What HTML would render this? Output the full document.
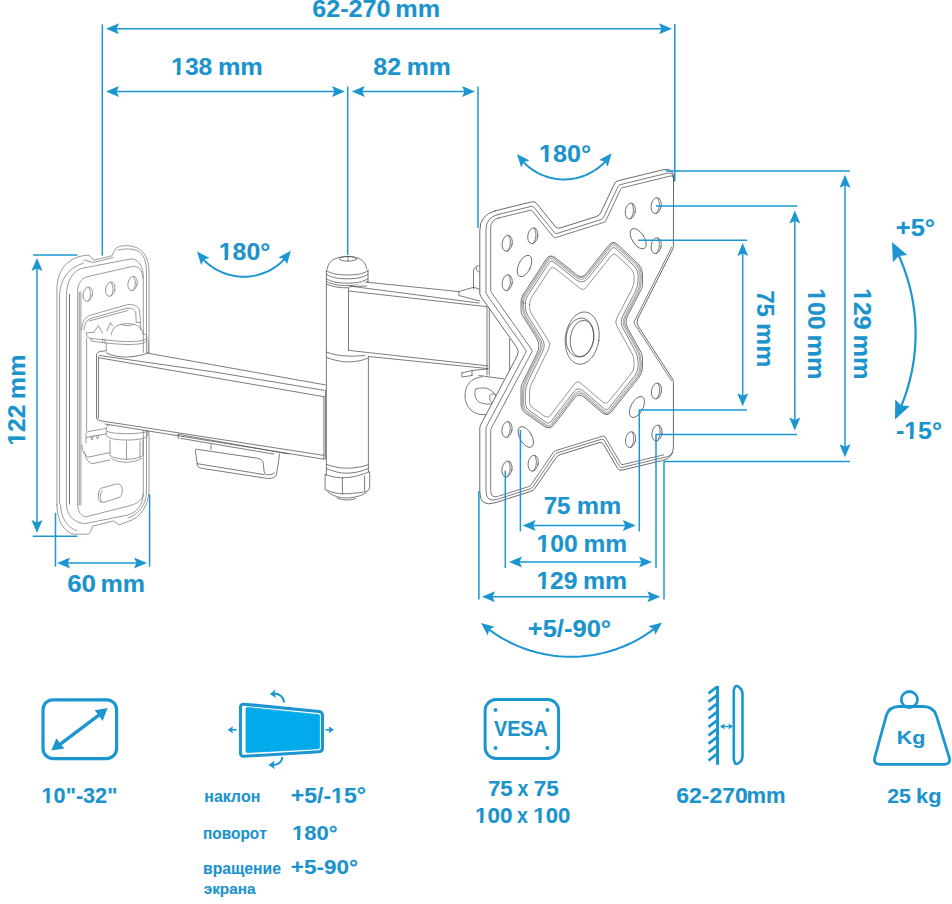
<!DOCTYPE html>
<html><head><meta charset="utf-8"><style>
html,body{margin:0;padding:0;background:#fff;width:952px;height:904px;overflow:hidden}
svg{display:block}
text{font-family:"Liberation Sans",sans-serif;font-weight:bold;font-kerning:none;stroke:#1b93cc;stroke-width:0.12;stroke-linejoin:round}
</style></head><body>
<svg width="952" height="904" viewBox="0 0 952 904">
<g fill="none" stroke="#505050" stroke-width="0.75" stroke-linejoin="round" stroke-linecap="round">
<g stroke="#7a7a7a">
<path d="M79.3,292 L79.3,505"/>
<path d="M86.6,338 L86.6,431"/>
<path d="M56.9,505 L56.9,289 C56.9,270 68,256.5 87.8,255.2 L90.5,256.3 L93.5,260.2 L111.8,255.8 L115.5,248.9 C117.5,246.5 120.5,245.8 125.6,245.7 C140,245.5 149,254 149,271.6 L149,491.7 C148.5,505 140,518 129.7,520.9 L119,524.9 L116.4,522.9 L113.7,520.9 L92.5,526.2 L91.2,530.8 L88.5,534.2 L73.9,534.2 C64,532 57,521 56.9,505 Z"/>
<path d="M59.5,504 L59.5,295.5 C60,280 68,268 82.8,263.4 L83.5,262.5"/>
<path d="M60.5,505 C61,518 67,527 76.5,530.8"/>
<path d="M84,260 L93.5,262.5 L113,257.5"/>
<path d="M118,250 C125,248.5 132,248.5 137,250.5 C144,254 146.5,262 146.5,272 L146.5,492 C146,504 140,514 128,518"/>
<path d="M66.4,504 L66.4,294.2 C67,281 73,271 81.5,268.4 L130.7,259 C138,258.5 143.3,266 143.3,276.6 L143.3,494 C143,505 137,512 128,515 L85.8,523.5 C74,523.5 66.4,515 66.4,504"/>
<path d="M69.5,504 L69.5,294.5" stroke-width="0.8" stroke="#4a4a4a"/>
<path d="M77.7,505 L77.7,290.5 C78,283 82,278 87.8,276.6 L132,266.5 C138,265.5 142.7,270 142.7,277.9"/>
<path d="M80.9,505 L80.9,292"/>
<path d="M77.7,505 C78,512 81,516 85.8,516.9 L132.3,505 C138,503 142.9,499 142.9,494.3"/>
<ellipse cx="87.8" cy="294.2" rx="4.6" ry="7.2" transform="rotate(12 87.8 294.2)"/>
<ellipse cx="110.3" cy="289.2" rx="4.6" ry="7.2" transform="rotate(12 110.3 289.2)"/>
<ellipse cx="132.6" cy="283.5" rx="4.6" ry="7.2" transform="rotate(12 132.6 283.5)"/>
<path d="M89,288 C91,292 91,297 88.5,301"/>
<path d="M111.5,283 C113.5,287 113.5,292 111,296"/>
<path d="M134,277.5 C136,281 136,286 133.5,290"/>
<path d="M98.5,494 C97.5,500 99.5,503 104,502.3 L119,497.5 C122.5,496 123,490 121.5,486.5 C120.5,484 118,483.5 115.5,484.2 L102,488 C99.5,488.8 98.8,491 98.5,494 Z"/>
<path d="M101.5,502.5 C99.5,499 100,492 102.5,490.5"/>
<path d="M81.6,330 C82,322 85,317 90.5,315.2 L127.3,304.7 C133,303.7 138.8,306 139.5,311 L140.4,320.5 L140.4,330"/>
<path d="M84,330 C84.5,323 87,319.5 92,318 L126,308.5 C131,307.5 135,309 135.8,313 L136.2,322.5 L140.4,322.5"/>
<path d="M89,321 L128,310.5"/>
<path d="M93.7,332.3 L98.4,325.7 L102.6,333 M106.8,331 L110.5,322.6 L112.5,326"/>
<path d="M111.5,334.5 C111.5,327.5 118,323.6 127.3,323.6 C136.5,323.6 143,327.5 143,334"/>
<path d="M121,324.4 C123,326 131,326 133.5,324.4"/>
<path d="M86.3,333 C86.3,336 88,338 91,338.5 L118,341.2 C130,342 141,341.5 145.5,339.5 C147.5,338.5 147.5,335.5 145.5,334.5 L143,333.5"/>
<path d="M86.3,333 L93.7,332.3"/>
<path d="M91,338.5 L91.3,341 C100,342.5 118,344.5 128,344.5 C138,344.5 144,343.5 146.5,341.5 L146.8,339"/>
<path d="M102.6,338.8 L102.6,342.6 M105,339.2 L105,343"/>
<path d="M106.3,343.5 L106.3,353 C115,357.5 138,357.5 148.3,352.5 L148.3,340"/>
<path d="M106.3,427 C106.3,424.5 114,423.3 127,423.3 C140,423.3 147.8,424.5 147.8,427 L147.8,435 C147.8,438 140,440 127,440 C114,440 106.3,438 106.3,435 Z"/>
<path d="M107,431.5 C115,434.5 139,434.5 147.3,431.5"/>
<path d="M110,440 L110,455.5 C117,460.5 136,460.5 143,455.5 L143,440"/>
<path d="M126.5,441 L126.5,459.5 M140,441 L140,457"/>
<path d="M111.5,458.5 C118,463.5 134,463.5 141.5,458.5"/>
<path d="M86,443 L86,433.5 L88,431.5 L106,428.5 M86,437.5 L106,434 M90.5,436.5 L92,440 L93.5,436 M96,435.5 L97.5,439 L99,435"/>
<path d="M82,445 C82,452 85,456 89,457 L110,452.5"/>
<path d="M84.5,452 C86,460 89,463.5 93,463.5 L110,460"/>
</g>
<path d="M96.5,420 L96.5,355 L100,351.5 L106,350.8 L148.8,353.2 L325.4,384.9 L325.4,459.2 L105,424 Z" fill="#fff" stroke="none"/>
<path d="M96.5,418 L96.5,355 C97,352.5 99,351.5 101,351.3 L106.3,350.8"/>
<path d="M98.4,418 L98.4,357"/>
<path d="M148.8,353.4 L325.4,384.9"/>
<path d="M99.5,355.5 L215,372.1 L323.9,390.3"/>
<path d="M99,357.8 L323.9,396.7"/>
<path d="M97,418.2 C97.5,420 98.5,420.5 100,420.7 L323.9,455.4"/>
<path d="M105,424 L323.9,459.2"/>
<path d="M323.9,396.5 L323.9,459.2 M325.4,390 L325.4,459"/>
<path d="M106.3,352.9 C112,356 121,357.2 126.8,357 C135,356.8 143,355 148.8,352.9"/>
<path d="M178.2,434.3 L286,453.5 M181,438.4 L273.8,454.1 M178.2,434.3 L178.2,438.6 M286,453.5 L289,453.8"/>
<path d="M211,444.6 L211,449.4 M196,448.7 C195,450 195.5,452 196,455 L197.3,465 C198,467.5 200,468 203,468.5 L264.2,478 C270,479 275,478.5 276.5,474.6 L279.2,456.9 L279.5,454"/>
<path d="M197.3,449.4 L257.4,458.2 C261,459 262.9,460.5 263.2,463 L264.2,471.9 C264.5,474.5 268,475.5 271,474.5 L274.5,473"/>
<path d="M197.3,463.7 L264.2,474.6"/>
<path d="M327.3,268.9 C328,260 337,256.5 348,256.5 C359,256.5 366,261 366.6,268.9"/>
<ellipse cx="348" cy="258.8" rx="8.8" ry="2.3" transform="rotate(0 348 258.8)"/>
<path d="M348,256.5 L348,261"/>
<path d="M326.4,270.7 C332,274.2 340,275.0 347,275.0 C355,275.0 363,274.2 368,270.7"/>
<path d="M326.4,274.2 C332,278.0 340,278.8 347,278.8 C355,278.8 363,278.0 368,274.2"/>
<path d="M326.4,278.6 C332,282.40000000000003 340,283.20000000000005 347,283.20000000000005 C355,283.20000000000005 363,282.40000000000003 368,278.6"/>
<path d="M326.4,281.3 C332,284.8 340,285.6 347,285.6 C355,285.6 363,284.8 368,281.3"/>
<path d="M326.4,284 C332,287 340,287.8 347,287.8 C355,287.8 363,287 368,284"/>
<path d="M326.4,270 L326.4,474.5"/>
<path d="M368,270 L368,284"/>
<path d="M368.4,356.5 L368.4,472"/>
<path d="M326.4,352.1 C333,354.5 341,356.1 349.8,356.1 C357,356.1 363,355.8 367.5,355.2"/>
<path d="M326.4,357.4 C333,360 341,361.9 348,361.9 C356,361.9 362,360.5 367.5,358.3"/>
<path d="M326.4,464.4 C334,467 340,468.2 346.1,468.2 C354,468.2 362,467 368,464.8"/>
<path d="M326.4,468.6 C334,471.5 340,473.2 346.1,473.2 C354,473.2 362,471.5 368,468.6"/>
<path d="M325.1,474.5 C331,476.5 337,477.8 341.9,477.8 C352,477.8 362,475 368.8,471.9"/>
<path d="M325.1,474.5 L325.1,489.6 C331,492 337,493.8 342.4,493.8 C352,493.8 362,492.5 367.1,491.3 L369.7,488 L369.7,471.9"/>
<path d="M342.4,477.8 L342.4,493.8 M364.6,476 L364.6,490.5"/>
<path d="M328,492.1 C333,496 340,498 346.1,498 C354,498 361,496 365.9,492.9"/>
<path d="M336.9,498 C340,500 351,501 355.4,498.5"/>
<path d="M348.5,350.4 L348.5,287 L366.6,282.2 L458.8,291.6 L486.2,306.6 L488,368.6 L368.4,356.5 Z" fill="#fff" stroke="none"/>
<path d="M348.5,350.4 L348.5,289 C348.7,287.2 349.5,286.6 350.7,286.4 L366.6,286"/>
<path d="M366.6,282.2 L458.8,291.6 L473.8,287.2 L480,289.5"/>
<path d="M350.7,286.2 L479.1,303.1"/>
<path d="M348.9,291 L486.2,306.6"/>
<path d="M348.9,350.4 L488,365.9"/>
<path d="M368.4,356.5 L488,368.6"/>
<path d="M458.8,291.6 L458.8,295.5 L479.8,301"/>
<path d="M487,306 L487,375 M489.3,306.5 L489.3,375"/>
<path d="M473.5,289 L473.5,272 C473.5,268 475.5,266 478.5,265.7 L479.5,266 M476.5,267.5 C476,270 477,271.5 479,272"/>
<path d="M461.9,372.9 L461.9,377 L472,375.5 M461.9,372.9 L472,370.5 L487.8,368.9 M472,370.5 L472,375.5"/>
<path d="M479,375.5 L503.7,378.9"/>
<path d="M482,376.8 C470,378 465,386 465,396 C465,406 472,414 482,414.7 L486,414.5"/>
<path d="M476,389 C474,392 474.5,399 479,402 C484,404.5 490,404.5 494,403 L497,397 C494,392 489,388 484,388 C481,388 477.5,388 476,389 Z"/>
<path d="M490,395 C492,393 495,393.5 496,396 L495,402 C492.5,403.5 490,402 489.8,399 Z"/>
<path d="M509.6,339 L509.6,372"/>
<path d="M495.34,210.78 L531.79,201.82 Q534.70,201.10 536.59,203.43 L555.31,226.57 Q557.20,228.90 560.06,228.00 L596.54,216.50 Q599.40,215.60 600.68,212.89 L614.22,184.11 Q615.50,181.40 618.41,180.69 L662.91,169.81 Q673.60,167.20 673.57,178.20 L673.40,245.90 Q673.40,247.90 672.50,249.69 L638.05,318.04 Q635.80,322.50 638.53,326.69 L672.31,378.62 Q673.40,380.30 673.40,382.30 L673.40,446.90 Q673.40,457.90 662.70,460.44 L621.92,470.11 Q619.00,470.80 617.48,468.21 L603.52,444.39 Q602.00,441.80 599.13,442.68 L560.37,454.62 Q557.50,455.50 555.80,457.97 L535.20,488.03 Q533.50,490.50 530.64,491.41 L495.05,502.75 Q479.80,507.60 479.80,491.60 L479.80,428.40 Q479.80,426.40 480.74,424.63 L517.25,355.92 Q519.60,351.50 516.72,347.41 L480.95,296.64 Q479.80,295.00 479.80,293.00 L479.80,230.60 Q479.80,214.60 495.34,210.78 Z" stroke-width="0.85" fill="#fff"/>
<clipPath id="c1"><path d="M440,150 L700,150 L700,177 L670.5,181 L670.5,247 L700,247 L700,381 L670.5,381 L670.5,452 L700,452 L700,530 L440,530 Z"/></clipPath>
<clipPath id="c2"><path d="M440,150 L700,150 L700,176 L664,183 L664,245 L633,322 L664,385 L664,530 L440,530 Z"/></clipPath>
<g clip-path="url(#c1)">
<path d="M497.65,214.64 L531.40,206.34 Q532.86,205.98 533.80,207.15 L554.55,232.78 Q555.49,233.95 556.93,233.50 L601.32,219.50 Q602.75,219.05 603.39,217.70 L618.13,186.39 Q618.77,185.03 620.22,184.67 L666.79,173.29 Q673.59,171.63 673.57,178.63 L673.41,242.38 Q673.41,243.88 672.73,245.22 L634.40,321.27 Q633.73,322.61 634.54,323.87 L672.58,382.34 Q673.40,383.60 673.40,385.10 L673.40,448.23 Q673.40,455.23 666.59,456.84 L621.73,467.48 Q620.27,467.83 619.51,466.53 L603.96,440.00 Q603.20,438.71 601.77,439.15 L557.30,452.84 Q555.87,453.28 555.02,454.52 L532.71,487.06 Q531.86,488.29 530.43,488.75 L497.43,499.26 Q486.00,502.90 486.00,490.90 L486.00,428.81 Q486.00,427.31 486.70,425.98 L525.81,352.39 Q526.51,351.07 525.65,349.84 L486.86,294.78 Q486.00,293.56 486.00,292.06 L486.00,229.50 Q486.00,217.50 497.65,214.64 Z" stroke-width="0.75"/>
</g><g clip-path="url(#c2)">
<path d="M498.47,218.04 L530.08,210.27 Q531.54,209.91 532.48,211.08 L553.33,236.83 Q554.27,238.00 555.70,237.55 L603.83,222.38 Q605.26,221.93 605.90,220.57 L620.58,189.39 Q621.22,188.03 622.68,187.68 L670.67,175.95 Q673.58,175.23 673.57,178.23 L673.40,246.40 Q673.40,247.90 672.72,249.24 L636.48,321.16 Q635.80,322.50 636.62,323.76 L672.58,379.04 Q673.40,380.30 673.40,381.80 L673.40,449.56 Q673.40,452.56 670.48,453.25 L623.00,464.51 Q621.54,464.85 620.78,463.56 L605.16,436.91 Q604.40,435.62 602.97,436.06 L555.67,450.62 Q554.24,451.06 553.39,452.30 L531.07,484.85 Q530.22,486.09 528.79,486.54 L498.32,496.24 Q490.70,498.67 490.70,490.67 L490.70,430.83 Q490.70,429.33 491.40,428.00 L531.78,352.02 Q532.49,350.69 531.62,349.47 L491.56,292.60 Q490.70,291.37 490.70,289.87 L490.70,227.95 Q490.70,219.95 498.47,218.04 Z" stroke-width="0.75"/>
</g>
<path d="M523.18,294.65 L546.18,259.36 Q550.00,253.50 555.47,257.86 L576.53,274.64 Q582.00,279.00 586.36,273.52 L608.64,245.48 Q613.00,240.00 618.08,244.82 L638.15,263.87 Q642.50,268.00 642.50,274.00 L642.50,284.00 Q642.50,287.00 641.12,289.66 L627.62,315.78 Q624.40,322.00 627.77,328.14 L641.06,352.37 Q642.50,355.00 642.50,358.00 L642.50,367.00 Q642.50,373.00 638.75,377.69 L611.67,411.53 Q607.30,417.00 601.97,412.47 L583.93,397.13 Q578.60,392.60 574.34,398.16 L554.06,424.64 Q549.80,430.20 544.07,426.18 L525.91,413.45 Q521.00,410.00 521.00,404.00 L521.00,389.00 Q521.00,386.00 522.32,383.30 L537.05,353.09 Q541.00,345.00 536.23,337.37 L522.59,315.54 Q521.00,313.00 521.00,310.00 L521.00,302.00 Q521.00,298.00 523.18,294.65 Z" stroke-width="0.8"/>
<path d="M522.30,302.39 L522.30,305.68 Q522.30,312.63 525.98,318.52 L538.77,338.99 Q542.48,344.92 539.42,351.21 L525.37,380.01 Q522.30,386.30 522.30,393.30 L522.30,403.32 Q522.30,409.32 527.21,412.77 L547.07,426.70 Q549.53,428.42 551.35,426.04 L574.14,396.28 Q578.40,390.72 583.73,395.26 L604.84,413.20 Q607.12,415.14 609.00,412.80 L637.45,377.23 Q641.20,372.54 641.20,366.54 L641.20,362.33 Q641.20,355.33 637.83,349.20 L626.29,328.16 Q622.93,322.02 626.14,315.80 L637.98,292.90 Q641.20,286.68 641.20,279.68 L641.20,274.56 Q641.20,268.56 636.85,264.43 L615.31,243.99 Q613.13,241.92 611.27,244.27 L587.81,273.78 Q582.21,280.83 575.17,275.22 L552.65,257.28 Q550.31,255.41 548.67,257.92 L524.48,295.04 Q522.30,298.39 522.30,302.39 Z" stroke-width="0.55"/>
<path d="M523.50,302.74 L523.50,305.68 Q523.50,312.28 527.00,317.88 L540.14,338.91 Q543.85,344.85 540.79,351.14 L526.57,380.29 Q523.50,386.58 523.50,393.58 L523.50,402.70 Q523.50,408.70 528.41,412.15 L546.82,425.05 Q549.27,426.78 551.10,424.40 L573.96,394.55 Q578.22,388.99 583.55,393.53 L604.67,411.48 Q606.96,413.43 608.83,411.08 L636.25,376.81 Q640.00,372.12 640.00,366.12 L640.00,362.64 Q640.00,355.64 636.63,349.50 L624.93,328.17 Q621.57,322.03 624.78,315.82 L636.78,292.61 Q640.00,286.39 640.00,279.39 L640.00,275.07 Q640.00,269.07 635.65,264.94 L615.43,245.76 Q613.26,243.69 611.39,246.04 L588.00,275.47 Q582.40,282.52 575.36,276.91 L552.94,259.04 Q550.59,257.17 548.95,259.68 L525.68,295.39 Q523.50,298.74 523.50,302.74 Z" stroke-width="0.55"/>
<path d="M525.30,303.28 L525.30,305.67 Q525.30,311.77 528.53,316.93 L542.20,338.81 Q545.91,344.74 542.84,351.03 L528.37,380.70 Q525.30,386.99 525.30,393.99 L525.30,401.76 Q525.30,407.76 530.21,411.21 L546.44,422.59 Q548.89,424.31 550.72,421.93 L573.68,391.95 Q577.94,386.39 583.27,390.93 L604.42,408.91 Q606.71,410.85 608.58,408.51 L634.45,376.18 Q638.20,371.49 638.20,365.49 L638.20,363.10 Q638.20,356.10 634.83,349.96 L622.89,328.20 Q619.53,322.06 622.74,315.84 L634.98,292.17 Q638.20,285.95 638.20,278.95 L638.20,275.85 Q638.20,269.85 633.85,265.72 L615.62,248.42 Q613.44,246.35 611.58,248.70 L588.29,278.00 Q582.69,285.05 575.65,279.44 L553.37,261.68 Q551.02,259.81 549.38,262.32 L527.48,295.93 Q525.30,299.28 525.30,303.28 Z" stroke-width="0.7"/>
<path d="M529.50,304.53 L529.50,306.56 Q529.50,310.56 531.62,313.95 L548.59,341.10 Q550.71,344.49 548.95,348.09 L531.25,384.37 Q529.50,387.96 529.50,391.96 L529.50,401.58 Q529.50,405.58 532.77,407.88 L544.73,416.26 Q548.01,418.56 550.44,415.39 L574.86,383.51 Q577.29,380.33 580.34,382.92 L603.09,402.26 Q606.13,404.85 608.63,401.73 L631.50,373.14 Q634.00,370.02 634.00,366.02 L634.00,361.18 Q634.00,357.18 632.08,353.67 L616.69,325.62 Q614.77,322.12 616.61,318.56 L632.16,288.49 Q634.00,284.93 634.00,280.93 L634.00,275.65 Q634.00,271.65 631.10,268.90 L616.78,255.31 Q613.88,252.55 611.39,255.69 L585.85,287.82 Q583.36,290.95 580.23,288.46 L555.14,268.47 Q552.02,265.98 549.83,269.33 L531.68,297.17 Q529.50,300.53 529.50,304.53 Z" stroke-width="0.6"/>
<ellipse cx="582.2" cy="338.1" rx="16.8" ry="26.3" transform="rotate(8 582.2 338.1)"/>
<ellipse cx="580" cy="337.5" rx="13.8" ry="19.5" transform="rotate(8 580 337.5)"/>
<ellipse cx="582" cy="338.6" rx="11.7" ry="18.4" transform="rotate(8 582 338.6)"/>
<ellipse cx="507.2" cy="243.3" rx="5" ry="8" transform="rotate(10 507.2 243.3)"/>
<path d="M508.8,235.70000000000002 C511.2,240.3 511.0,246.3 507.4,251.20000000000002"/>
<ellipse cx="532.8" cy="235.8" rx="5" ry="8" transform="rotate(10 532.8 235.8)"/>
<path d="M534.4,228.20000000000002 C536.8,232.8 536.5999999999999,238.8 533.0,243.70000000000002"/>
<ellipse cx="507.2" cy="282.7" rx="5" ry="8" transform="rotate(10 507.2 282.7)"/>
<path d="M508.8,275.09999999999997 C511.2,279.7 511.0,285.7 507.4,290.59999999999997"/>
<ellipse cx="630.3" cy="211" rx="5" ry="8" transform="rotate(10 630.3 211)"/>
<path d="M631.9,203.4 C634.3,208 634.0999999999999,214 630.5,218.9"/>
<ellipse cx="656.2" cy="205.6" rx="5" ry="8" transform="rotate(10 656.2 205.6)"/>
<path d="M657.8000000000001,198.0 C660.2,202.6 660.0,208.6 656.4000000000001,213.5"/>
<ellipse cx="656.2" cy="245.7" rx="5" ry="8" transform="rotate(10 656.2 245.7)"/>
<path d="M657.8000000000001,238.1 C660.2,242.7 660.0,248.7 656.4000000000001,253.6"/>
<ellipse cx="507" cy="429.5" rx="5" ry="8" transform="rotate(10 507 429.5)"/>
<path d="M508.6,421.9 C511,426.5 510.8,432.5 507.2,437.4"/>
<ellipse cx="507" cy="469" rx="5" ry="8" transform="rotate(10 507 469)"/>
<path d="M508.6,461.4 C511,466 510.8,472 507.2,476.9"/>
<ellipse cx="533.2" cy="463.2" rx="5" ry="8" transform="rotate(10 533.2 463.2)"/>
<path d="M534.8000000000001,455.59999999999997 C537.2,460.2 537.0,466.2 533.4000000000001,471.09999999999997"/>
<ellipse cx="656.5" cy="391" rx="5" ry="8" transform="rotate(10 656.5 391)"/>
<path d="M658.1,383.4 C660.5,388 660.3,394 656.7,398.9"/>
<ellipse cx="630.6" cy="439.6" rx="5" ry="8" transform="rotate(10 630.6 439.6)"/>
<path d="M632.2,432.0 C634.6,436.6 634.4,442.6 630.8000000000001,447.5"/>
<ellipse cx="657" cy="433" rx="5" ry="8" transform="rotate(10 657 433)"/>
<path d="M658.6,425.4 C661,430 660.8,436 657.2,440.9"/>
<ellipse cx="524.5" cy="266" rx="6" ry="11.5" transform="rotate(25 524.5 266)"/>
<ellipse cx="638.2" cy="238.7" rx="6" ry="11.5" transform="rotate(-33 638.2 238.7)"/>
<ellipse cx="525.8" cy="437" rx="6" ry="11.5" transform="rotate(-30 525.8 437)"/>
<ellipse cx="637" cy="407" rx="6" ry="11.5" transform="rotate(28 637 407)"/>
</g>
<line x1="102.3" y1="24.4" x2="102.3" y2="255.5" stroke="#1b96d1" stroke-width="1.5"/>
<line x1="674.8" y1="24" x2="674.8" y2="181.5" stroke="#1b96d1" stroke-width="1.5"/>
<line x1="110" y1="28.7" x2="668" y2="28.7" stroke="#1b96d1" stroke-width="1.5"/>
<polygon points="106,28.7 119,23.2 116.5,28.7 119,34.2" fill="#1b96d1"/>
<polygon points="672,28.7 659,34.2 661.5,28.7 659,23.2" fill="#1b96d1"/>
<text transform="translate(313.16,16.94) scale(1.0693,1)" x="-0.86" y="0" font-size="23.53" fill="#1b93cc">62-270</text>
<text transform="translate(396.96,16.94) scale(1.0709,1)" x="-1.55" y="0" font-size="23.53" fill="#1b93cc">mm</text>
<line x1="347.7" y1="86.6" x2="347.7" y2="255" stroke="#1b96d1" stroke-width="1.5"/>
<line x1="478" y1="86.6" x2="478" y2="228" stroke="#1b96d1" stroke-width="1.5"/>
<line x1="110" y1="91.6" x2="341" y2="91.6" stroke="#1b96d1" stroke-width="1.5"/>
<polygon points="106,91.6 119,86.1 116.5,91.6 119,97.1" fill="#1b96d1"/>
<polygon points="345,91.6 332,97.1 334.5,91.6 332,86.1" fill="#1b96d1"/>
<line x1="355.8" y1="91.6" x2="471" y2="91.6" stroke="#1b96d1" stroke-width="1.5"/>
<polygon points="351.8,91.6 364.8,86.1 362.3,91.6 364.8,97.1" fill="#1b96d1"/>
<polygon points="475,91.6 462,97.1 464.5,91.6 462,86.1" fill="#1b96d1"/>
<text transform="translate(172.76,74.74) scale(1.0468,1)" x="-1.48" y="0" font-size="23.53" fill="#1b93cc">138</text>
<g transform="translate(172.76,74.74) scale(1.0468,1)"><rect x="-1.02" y="-3.79" width="4.96" height="5.39" fill="#fff"/><rect x="7.31" y="-3.79" width="4.42" height="5.39" fill="#fff"/></g>
<text transform="translate(219.56,74.74) scale(1.0735,1)" x="-1.55" y="0" font-size="23.53" fill="#1b93cc">mm</text>
<text transform="translate(374.16,74.94) scale(1.0572,1)" x="-0.75" y="0" font-size="23.53" fill="#1b93cc">82</text>
<text transform="translate(408.26,74.94) scale(1.0554,1)" x="-1.55" y="0" font-size="23.53" fill="#1b93cc">mm</text>
<line x1="666" y1="171" x2="850" y2="171" stroke="#1b96d1" stroke-width="1.5"/>
<line x1="845" y1="178.8" x2="845" y2="453.3" stroke="#1b96d1" stroke-width="1.5"/>
<polygon points="845,174.8 850.5,187.8 845,185.3 839.5,187.8" fill="#1b96d1"/>
<polygon points="845,457.3 839.5,444.3 845,446.8 850.5,444.3" fill="#1b96d1"/>
<line x1="656" y1="206" x2="797.3" y2="206" stroke="#1b96d1" stroke-width="1.5"/>
<line x1="794.8" y1="214.4" x2="794.8" y2="426.5" stroke="#1b96d1" stroke-width="1.5"/>
<polygon points="794.8,210.4 800.3,223.4 794.8,220.9 789.3,223.4" fill="#1b96d1"/>
<polygon points="794.8,430.5 789.3,417.5 794.8,420 800.3,417.5" fill="#1b96d1"/>
<line x1="638.2" y1="240.2" x2="747.2" y2="240.2" stroke="#1b96d1" stroke-width="1.5"/>
<line x1="742.7" y1="247" x2="742.7" y2="402.3" stroke="#1b96d1" stroke-width="1.5"/>
<polygon points="742.7,243 748.2,256 742.7,253.5 737.2,256" fill="#1b96d1"/>
<polygon points="742.7,406.3 737.2,393.3 742.7,395.8 748.2,393.3" fill="#1b96d1"/>
<line x1="639" y1="410" x2="747" y2="410" stroke="#1b96d1" stroke-width="1.5"/>
<line x1="655.5" y1="434.6" x2="797" y2="434.6" stroke="#1b96d1" stroke-width="1.5"/>
<line x1="663.7" y1="461.4" x2="850" y2="461.4" stroke="#1b96d1" stroke-width="1.5"/>
<text transform="translate(757.06,291.16) rotate(90) scale(1.0276,1)" x="-1.01" y="0" font-size="23.53" fill="#1b93cc">75</text>
<text transform="translate(757.06,324.66) rotate(90) scale(1.0580,1)" x="-1.55" y="0" font-size="23.53" fill="#1b93cc">mm</text>
<text transform="translate(808.46,289.66) rotate(90) scale(1.0591,1)" x="-1.48" y="0" font-size="23.53" fill="#1b93cc">100</text>
<g transform="translate(808.46,289.66) rotate(90) scale(1.0591,1)"><rect x="-1.02" y="-3.79" width="4.96" height="5.39" fill="#fff"/><rect x="7.31" y="-3.79" width="4.42" height="5.39" fill="#fff"/></g>
<text transform="translate(808.46,336.26) rotate(90) scale(1.0735,1)" x="-1.55" y="0" font-size="23.53" fill="#1b93cc">mm</text>
<text transform="translate(854.06,289.66) rotate(90) scale(1.0564,1)" x="-1.48" y="0" font-size="23.53" fill="#1b93cc">129</text>
<g transform="translate(854.06,289.66) rotate(90) scale(1.0564,1)"><rect x="-1.02" y="-3.79" width="4.96" height="5.39" fill="#fff"/><rect x="7.31" y="-3.79" width="4.42" height="5.39" fill="#fff"/></g>
<text transform="translate(854.06,336.26) rotate(90) scale(1.0735,1)" x="-1.55" y="0" font-size="23.53" fill="#1b93cc">mm</text>
<line x1="520.4" y1="430" x2="520.4" y2="531.4" stroke="#1b96d1" stroke-width="1.5"/>
<line x1="639.3" y1="410" x2="639.3" y2="531.4" stroke="#1b96d1" stroke-width="1.5"/>
<line x1="526.7" y1="525.4" x2="631.8" y2="525.4" stroke="#1b96d1" stroke-width="1.5"/>
<polygon points="522.7,525.4 535.7,519.9 533.2,525.4 535.7,530.9" fill="#1b96d1"/>
<polygon points="635.8,525.4 622.8,530.9 625.3,525.4 622.8,519.9" fill="#1b96d1"/>
<line x1="505.3" y1="470.6" x2="505.3" y2="568" stroke="#1b96d1" stroke-width="1.5"/>
<line x1="656" y1="434.6" x2="656" y2="568" stroke="#1b96d1" stroke-width="1.5"/>
<line x1="513" y1="561.9" x2="648" y2="561.9" stroke="#1b96d1" stroke-width="1.5"/>
<polygon points="509,561.9 522,556.4 519.5,561.9 522,567.4" fill="#1b96d1"/>
<polygon points="652,561.9 639,567.4 641.5,561.9 639,556.4" fill="#1b96d1"/>
<line x1="478.9" y1="491" x2="478.9" y2="599.5" stroke="#1b96d1" stroke-width="1.5"/>
<line x1="664" y1="461.4" x2="664" y2="599.5" stroke="#1b96d1" stroke-width="1.5"/>
<line x1="486" y1="596.8" x2="656.3" y2="596.8" stroke="#1b96d1" stroke-width="1.5"/>
<polygon points="482,596.8 495,591.3 492.5,596.8 495,602.3" fill="#1b96d1"/>
<polygon points="660.3,596.8 647.3,602.3 649.8,596.8 647.3,591.3" fill="#1b96d1"/>
<text transform="translate(544.66,513.64) scale(1.0276,1)" x="-1.01" y="0" font-size="23.53" fill="#1b93cc">75</text>
<text transform="translate(578.36,513.64) scale(1.0632,1)" x="-1.55" y="0" font-size="23.53" fill="#1b93cc">mm</text>
<text transform="translate(537.96,551.74) scale(1.0509,1)" x="-1.48" y="0" font-size="23.53" fill="#1b93cc">100</text>
<g transform="translate(537.96,551.74) scale(1.0509,1)"><rect x="-1.02" y="-3.79" width="4.96" height="5.39" fill="#fff"/><rect x="7.31" y="-3.79" width="4.42" height="5.39" fill="#fff"/></g>
<text transform="translate(585.16,551.74) scale(1.0426,1)" x="-1.55" y="0" font-size="23.53" fill="#1b93cc">mm</text>
<text transform="translate(537.96,588.94) scale(1.0483,1)" x="-1.48" y="0" font-size="23.53" fill="#1b93cc">129</text>
<g transform="translate(537.96,588.94) scale(1.0483,1)"><rect x="-1.02" y="-3.79" width="4.96" height="5.39" fill="#fff"/><rect x="7.31" y="-3.79" width="4.42" height="5.39" fill="#fff"/></g>
<text transform="translate(584.66,588.94) scale(1.0554,1)" x="-1.55" y="0" font-size="23.53" fill="#1b93cc">mm</text>
<line x1="33.2" y1="254.9" x2="77.4" y2="254.9" stroke="#1b96d1" stroke-width="1.5"/>
<line x1="32.8" y1="536.3" x2="77.3" y2="536.3" stroke="#1b96d1" stroke-width="1.5"/>
<line x1="37" y1="262.1" x2="37" y2="529" stroke="#1b96d1" stroke-width="1.5"/>
<polygon points="37,258.1 42.5,271.1 37,268.6 31.5,271.1" fill="#1b96d1"/>
<polygon points="37,533 31.5,520 37,522.5 42.5,520" fill="#1b96d1"/>
<text transform="translate(24.54,444.14) rotate(-90) scale(1.0530,1)" x="-1.48" y="0" font-size="23.53" fill="#1b93cc">122</text>
<g transform="translate(24.54,444.14) rotate(-90) scale(1.0530,1)"><rect x="-1.02" y="-3.79" width="4.96" height="5.39" fill="#fff"/><rect x="7.31" y="-3.79" width="4.42" height="5.39" fill="#fff"/></g>
<text transform="translate(24.54,397.54) rotate(-90) scale(1.0683,1)" x="-1.55" y="0" font-size="23.53" fill="#1b93cc">mm</text>
<line x1="55.5" y1="512.8" x2="55.5" y2="566.6" stroke="#1b96d1" stroke-width="1.5"/>
<line x1="149.6" y1="494.3" x2="149.6" y2="566.6" stroke="#1b96d1" stroke-width="1.5"/>
<line x1="61.1" y1="562.9" x2="143" y2="562.9" stroke="#1b96d1" stroke-width="1.5"/>
<polygon points="57.1,562.9 70.1,557.4 67.6,562.9 70.1,568.4" fill="#1b96d1"/>
<polygon points="147,562.9 134,568.4 136.5,562.9 134,557.4" fill="#1b96d1"/>
<text transform="translate(68.06,591.94) scale(1.1043,1)" x="-0.86" y="0" font-size="23.53" fill="#1b93cc">60</text>
<text transform="translate(102.16,591.94) scale(1.0632,1)" x="-1.55" y="0" font-size="23.53" fill="#1b93cc">mm</text>
<polyline points="522.86,161.47 524.48,163.14 526.17,164.75 527.93,166.28 529.75,167.74 531.63,169.12 533.56,170.43 535.55,171.65 537.58,172.79 539.67,173.84 541.79,174.81 543.95,175.69 546.14,176.48 548.37,177.18 550.62,177.78 552.9,178.29 555.2,178.71 557.51,179.03 559.83,179.25 562.16,179.38 564.49,179.41 566.82,179.34 569.15,179.18 571.47,178.92 573.77,178.57 576.06,178.12 578.33,177.58 580.58,176.94 582.79,176.21 584.97,175.39 587.12,174.48 589.23,173.48 591.3,172.39 593.31,171.22 595.28,169.97 597.2,168.64 599.05,167.23 600.85,165.74 602.59,164.18 604.26,162.55 605.85,160.85" fill="none" stroke="#1b96d1" stroke-width="2"/>
<polygon points="517,154 529.56,160.45 523.73,162.06 521.12,167.5" fill="#1b96d1"/>
<polygon points="611.6,153.3 607.68,166.86 604.99,161.45 599.14,159.93" fill="#1b96d1"/>
<text transform="translate(540.66,162.44) scale(1.0696,1)" x="-1.48" y="0" font-size="23.53" fill="#1b93cc">180°</text>
<g transform="translate(540.66,162.44) scale(1.0696,1)"><rect x="-1.02" y="-3.79" width="4.96" height="5.39" fill="#fff"/><rect x="7.31" y="-3.79" width="4.42" height="5.39" fill="#fff"/></g>
<polyline points="202.87,258.96 204.48,260.62 206.16,262.2 207.9,263.72 209.71,265.16 211.57,266.53 213.49,267.82 215.46,269.03 217.47,270.16 219.54,271.2 221.64,272.16 223.78,273.03 225.96,273.81 228.17,274.5 230.4,275.09 232.66,275.6 234.93,276.01 237.22,276.33 239.52,276.55 241.83,276.67 244.14,276.7 246.45,276.64 248.76,276.48 251.05,276.22 253.34,275.87 255.61,275.43 257.86,274.89 260.08,274.26 262.28,273.54 264.44,272.73 266.57,271.82 268.66,270.84 270.71,269.76 272.71,268.61 274.66,267.37 276.56,266.05 278.4,264.65 280.18,263.18 281.9,261.64 283.56,260.03 285.15,258.35" fill="none" stroke="#1b96d1" stroke-width="2"/>
<polygon points="197,251.5 209.57,257.93 203.75,259.55 201.14,265" fill="#1b96d1"/>
<polygon points="290.9,250.8 286.97,264.36 284.28,258.95 278.43,257.42" fill="#1b96d1"/>
<text transform="translate(220.36,259.64) scale(1.0566,1)" x="-1.48" y="0" font-size="23.53" fill="#1b93cc">180°</text>
<g transform="translate(220.36,259.64) scale(1.0566,1)"><rect x="-1.02" y="-3.79" width="4.96" height="5.39" fill="#fff"/><rect x="7.31" y="-3.79" width="4.42" height="5.39" fill="#fff"/></g>
<polyline points="488.37,628.99 491.97,631.63 495.66,634.15 499.43,636.55 503.27,638.82 507.19,640.97 511.18,642.99 515.22,644.88 519.33,646.63 523.49,648.25 527.71,649.73 531.97,651.08 536.27,652.29 540.6,653.35 544.97,654.28 549.37,655.06 553.79,655.7 558.23,656.19 562.68,656.54 567.15,656.74 571.61,656.8 576.08,656.71 580.54,656.48 584.99,656.1 589.43,655.58 593.84,654.91 598.23,654.1 602.6,653.15 606.93,652.05 611.22,650.82 615.47,649.44 619.67,647.93 623.83,646.28 627.92,644.5 631.96,642.59 635.93,640.54 639.83,638.37 643.66,636.07 647.41,633.65 651.08,631.1 654.67,628.44" fill="none" stroke="#1b96d1" stroke-width="2"/>
<polygon points="481,623 494.61,626.76 489.23,629.52 487.77,635.38" fill="#1b96d1"/>
<polygon points="662,622.4 655.31,634.83 653.81,628.97 648.42,626.25" fill="#1b96d1"/>
<text transform="translate(528.86,636.64) scale(1.0844,1)" x="-0.99" y="0" font-size="23.53" fill="#1b93cc">+5/-90°</text>
<polyline points="898.51,254.95 900.09,258.51 901.6,262.11 903.03,265.73 904.39,269.38 905.67,273.06 906.88,276.77 908.01,280.49 909.06,284.25 910.04,288.02 910.94,291.81 911.76,295.62 912.5,299.44 913.16,303.28 913.74,307.14 914.25,311 914.67,314.87 915.02,318.75 915.28,322.64 915.47,326.53 915.58,330.43 915.6,334.32 915.55,338.22 915.41,342.11 915.2,346 914.91,349.89 914.53,353.77 914.08,357.64 913.55,361.5 912.93,365.34 912.24,369.18 911.47,373 910.62,376.8 909.7,380.59 908.7,384.35 907.61,388.1 906.46,391.82 905.22,395.51 903.92,399.18 902.53,402.82 901.07,406.44" fill="none" stroke="#1b96d1" stroke-width="2.2"/>
<polygon points="892,242 907.32,255.1 898.82,255.92 892.95,262.13" fill="#1b96d1"/>
<polygon points="895,419.6 895.27,399.45 901.34,405.46 909.87,405.99" fill="#1b96d1"/>
<text transform="translate(896.86,236.04) scale(1.0832,1)" x="-0.99" y="0" font-size="23.53" fill="#1b93cc">+5°</text>
<text transform="translate(896.86,438.54) scale(1.0627,1)" x="-0.92" y="0" font-size="23.53" fill="#1b93cc">-15°</text>
<g transform="translate(896.86,438.54) scale(1.0627,1)"><rect x="7.37" y="-3.79" width="4.96" height="5.39" fill="#fff"/><rect x="15.7" y="-3.79" width="4.42" height="5.39" fill="#fff"/></g>
<rect x="43" y="699.8" width="73.6" height="58.8" rx="10" fill="none" stroke="#1b96d1" stroke-width="3.2"/>
<line x1="57" y1="746.6" x2="102.5" y2="712.4" stroke="#1b96d1" stroke-width="3.3"/>
<polygon points="107.6,708 94.6,710.2 98.8,715.2 102.6,721.1" fill="#1b96d1"/>
<polygon points="51.3,750.5 56.4,738.3 60.2,743.6 64.4,748.4" fill="#1b96d1"/>
<text transform="translate(42.96,803.14) scale(0.9826,1)" x="-1.39" y="0" font-size="22.02" fill="#1b93cc">10"-32"</text>
<g transform="translate(42.96,803.14) scale(0.9826,1)"><rect x="-0.96" y="-3.55" width="4.65" height="5.15" fill="#fff"/><rect x="6.84" y="-3.55" width="4.14" height="5.15" fill="#fff"/></g>
<path d="M244,704.2 L319,711.5 Q322.5,711.9 322.5,715.4 L322.5,748 Q322.5,751.5 319,751.7 L244,756.3 Q240.5,756.5 240.5,753 L240.5,707.5 Q240.5,703.9 244,704.2 Z" fill="none" stroke="#1b96d1" stroke-width="3.1"/>
<path d="M246.8,707.4 L318.8,714.7 L319.6,715.5 L319.6,747.9 L318.8,748.7 L246.8,752.6 L246,751.8 L246,708.2 Z" fill="#00aaeb" stroke="#00aaeb" stroke-width="0.8" stroke-linejoin="round"/>
<polygon points="227.6,729.8 233,726.2 232,729.8 233,733.4" fill="#1b96d1"/>
<line x1="231" y1="729.8" x2="236.5" y2="729.8" stroke="#1b96d1" stroke-width="1.6"/>
<polygon points="334,729.8 328.6,726.2 329.6,729.8 328.6,733.4" fill="#1b96d1"/>
<line x1="325.5" y1="729.8" x2="331" y2="729.8" stroke="#1b96d1" stroke-width="1.6"/>
<path d="M284.3,702.5 Q283,694 274,693.5" fill="none" stroke="#1b96d1" stroke-width="2"/>
<polygon points="269.8,693.9 275.5,689.5 274.5,693.6 276,698" fill="#1b96d1"/>
<path d="M282.4,757 Q281.5,764.5 273,765" fill="none" stroke="#1b96d1" stroke-width="2"/>
<polygon points="268.5,765 274.5,760.5 273.5,764.8 275,769.2" fill="#1b96d1"/>
<text transform="translate(205.46,802.24) scale(0.9356,1)" x="-1.19" y="0" font-size="17.05" fill="#1b93cc">наклон</text>
<text transform="translate(291.76,803.04) scale(1.0879,1)" x="-0.89" y="0" font-size="21.17" fill="#1b93cc">+5/-15°</text>
<g transform="translate(291.76,803.04) scale(1.0879,1)"><rect x="36.58" y="-3.41" width="4.46" height="5.01" fill="#fff"/><rect x="44.08" y="-3.41" width="3.98" height="5.01" fill="#fff"/></g>
<text transform="translate(204.06,838.54) scale(0.9668,1)" x="-1.11" y="0" font-size="15.91" fill="#1b93cc">поворот</text>
<text transform="translate(293.36,839.74) scale(1.0611,1)" x="-1.31" y="0" font-size="20.74" fill="#1b93cc">180°</text>
<g transform="translate(293.36,839.74) scale(1.0611,1)"><rect x="-0.9" y="-3.34" width="4.37" height="4.94" fill="#fff"/><rect x="6.44" y="-3.34" width="3.9" height="4.94" fill="#fff"/></g>
<text transform="translate(204.06,874.44) scale(0.9890,1)" x="-1.11" y="0" font-size="15.91" fill="#1b93cc">вращение</text>
<text transform="translate(291.76,874.24) scale(1.0763,1)" x="-0.88" y="0" font-size="20.88" fill="#1b93cc">+5-90°</text>
<text transform="translate(204.06,894.34) scale(1.0841,1)" x="-0.36" y="0" font-size="14.21" fill="#1b93cc">экрана</text>
<rect x="485.1" y="699.5" width="73.5" height="59" rx="11" fill="none" stroke="#1b96d1" stroke-width="3"/>
<circle cx="495.5" cy="710.1" r="2" fill="#1b96d1"/>
<circle cx="547.4" cy="710.1" r="2" fill="#1b96d1"/>
<circle cx="495.5" cy="748" r="2" fill="#1b96d1"/>
<circle cx="547.4" cy="748" r="2" fill="#1b96d1"/>
<text transform="translate(494.06,735.64) scale(0.8860,1)" x="-0.15" y="0" font-size="22.36" fill="#1b93cc">VESA</text>
<text transform="translate(488.96,795.74) scale(1.0445,1)" x="-0.92" y="0" font-size="21.31" fill="#1b93cc">75</text>
<text transform="translate(517.56,795.74) scale(0.9247,1)" x="-0.15" y="0" font-size="21.31" fill="#1b93cc">x</text>
<text transform="translate(534.76,795.74) scale(1.0580,1)" x="-0.92" y="0" font-size="21.31" fill="#1b93cc">75</text>
<text transform="translate(476.36,823.04) scale(1.0553,1)" x="-1.34" y="0" font-size="21.31" fill="#1b93cc">100</text>
<g transform="translate(476.36,823.04) scale(1.0553,1)"><rect x="-0.93" y="-3.43" width="4.49" height="5.03" fill="#fff"/><rect x="6.62" y="-3.43" width="4.01" height="5.03" fill="#fff"/></g>
<text transform="translate(517.06,823.04) scale(0.9161,1)" x="-0.15" y="0" font-size="21.31" fill="#1b93cc">x</text>
<text transform="translate(534.76,823.04) scale(1.0403,1)" x="-1.34" y="0" font-size="21.31" fill="#1b93cc">100</text>
<g transform="translate(534.76,823.04) scale(1.0403,1)"><rect x="-0.93" y="-3.43" width="4.49" height="5.03" fill="#fff"/><rect x="6.62" y="-3.43" width="4.01" height="5.03" fill="#fff"/></g>
<line x1="717.5" y1="686" x2="717.5" y2="764.8" stroke="#1b96d1" stroke-width="3"/>
<line x1="717.5" y1="686.5" x2="708.5" y2="693.3" stroke="#1b96d1" stroke-width="2.8"/>
<line x1="717.5" y1="694.9" x2="708.5" y2="701.7" stroke="#1b96d1" stroke-width="2.8"/>
<line x1="717.5" y1="703.3" x2="708.5" y2="710.1" stroke="#1b96d1" stroke-width="2.8"/>
<line x1="717.5" y1="711.7" x2="708.5" y2="718.5" stroke="#1b96d1" stroke-width="2.8"/>
<line x1="717.5" y1="720.1" x2="708.5" y2="726.9" stroke="#1b96d1" stroke-width="2.8"/>
<line x1="717.5" y1="728.5" x2="708.5" y2="735.3" stroke="#1b96d1" stroke-width="2.8"/>
<line x1="717.5" y1="736.9" x2="708.5" y2="743.7" stroke="#1b96d1" stroke-width="2.8"/>
<line x1="717.5" y1="745.3" x2="708.5" y2="752.1" stroke="#1b96d1" stroke-width="2.8"/>
<line x1="717.5" y1="753.7" x2="708.5" y2="760.5" stroke="#1b96d1" stroke-width="2.8"/>
<path d="M737.9,686.3 L740,688 Q742.5,690 742.5,694 L742.5,756 Q742.5,760 740,762 L737.9,763.5 Q735.5,765 734.5,762 L733.8,759 L733.8,690 L734.5,688 Q735.5,685 737.9,686.3 Z" fill="none" stroke="#1b96d1" stroke-width="2.6"/>
<line x1="722.5" y1="726.5" x2="730.5" y2="726.5" stroke="#1b96d1" stroke-width="1.4"/>
<polygon points="720,726.5 724.6,723.6 724,726.5 724.6,729.4" fill="#1b96d1"/>
<polygon points="733,726.5 728.4,723.6 729,726.5 728.4,729.4" fill="#1b96d1"/>
<text transform="translate(677.06,802.84) scale(1.0729,1)" x="-0.79" y="0" font-size="21.45" fill="#1b93cc">62-270</text>
<text transform="translate(747.86,802.84) scale(1.0247,1)" x="-1.41" y="0" font-size="21.45" fill="#1b93cc">mm</text>
<circle cx="909.4" cy="699.6" r="8.1" fill="none" stroke="#1b96d1" stroke-width="2.8"/>
<path d="M898.80,706.50 L923.60,706.50 Q933.60,706.50 936.53,716.06 L949.10,757.13 Q951.30,764.30 943.80,764.30 L880.40,764.30 Q872.90,764.30 874.89,757.07 L886.15,716.14 Q888.80,706.50 898.80,706.50 Z" fill="none" stroke="#1b96d1" stroke-width="2.8"/>
<text transform="translate(898.16,743.94) scale(1.1483,1)" x="-1.25" y="0" font-size="18.72" fill="#1b93cc">Kg</text>
<text transform="translate(887.86,802.84) scale(1.0096,1)" x="-0.73" y="0" font-size="21.02" fill="#1b93cc">25</text>
<text transform="translate(917.56,802.84) scale(1.0379,1)" x="-1.47" y="0" font-size="21.02" fill="#1b93cc">kg</text>
</svg>
</body></html>
